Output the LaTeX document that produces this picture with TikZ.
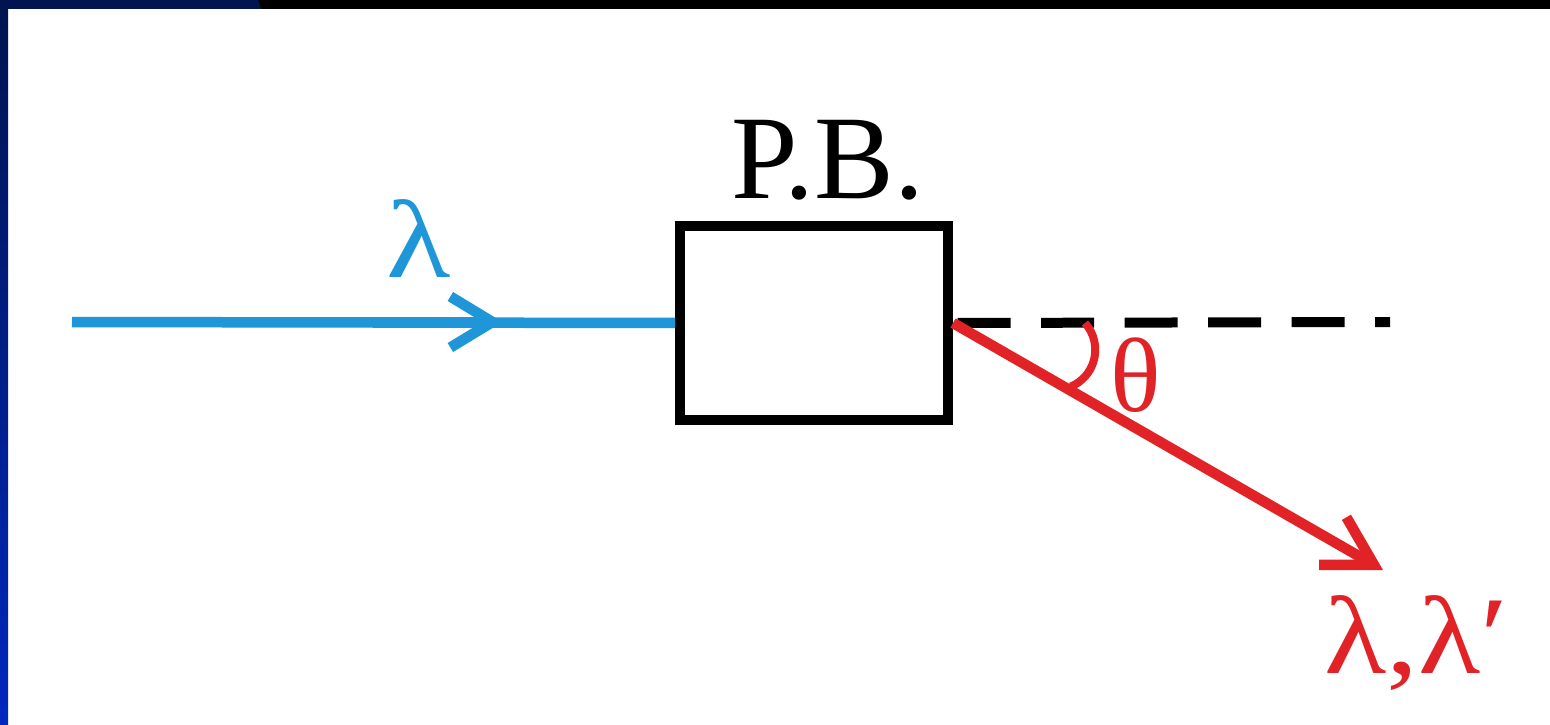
\documentclass[tikz,border=0pt]{standalone}
\usepackage{fontspec}
\setmainfont{Liberation Serif}
\usepackage{xcolor}
\usetikzlibrary{arrows.meta}
\definecolor{navy}{RGB}{0,20,80}
\definecolor{sideblue}{RGB}{0,40,190}
\definecolor{inblue}{RGB}{30,150,215}
\definecolor{outred}{RGB}{225,35,40}
\begin{document}
\begin{tikzpicture}[inbeam/.style={line width=0.21cm,inblue},outbeam/.style={line width=0.21cm,outred},
guide/.style={line width=0.2cm,black,dash pattern=on 1.06cm off 0.61cm,dash phase=1.58cm},
lbl/.style={inner sep=0pt,font=\fontsize{#1}{#1}\selectfont}]
\useasboundingbox(0,0)rectangle(31,14.48);
\fill[white](0,0)rectangle(31,14.48);
\fill[black](0,14.30)rectangle(31,14.48);
\fill[navy](0,14.30)--(5.22,14.30)--(5.16,14.48)--(0,14.48)--cycle;
\shade[top color=navy,bottom color=sideblue](0,0)rectangle(0.16,14.30);
\node[draw,line width=0.2cm,minimum width=5.36cm,minimum height=3.86cm,inner sep=0pt](pb)at(16.28,8.02){};
\node[lbl=68](pbname)at(16.56,11.28){P.B.};
\coordinate(src)at(1.44,8.04);
\coordinate(ahead)at(10.05,8.04);
\coordinate(dashend)at(27.8,8.04);
\coordinate(out)at(27.66,3.08);
\draw[inbeam](src)--(pb.west);
\draw[inbeam,-{Straight Barb[length=0.84cm,width=1.02cm]}](src)--(ahead);
\node[lbl=63,inblue,xscale=1.2](lamin)at(8.37,9.7){λ};
\draw[guide](pb.east)--(dashend);
\draw[outbeam,-{Straight Barb[length=0.95cm,width=1.1cm]}](pb.east)--(out);
\draw[outbeam,line width=0.16cm](pb.east)++(0:2.64)arc(42:-67:0.8);
\node[lbl=60,outred](theta)at(22.72,6.98){θ};
\node[lbl=63,outred,xscale=1.16](lamout)at(28.33,1.62){λ,λ′};
\end{tikzpicture}
\end{document}
